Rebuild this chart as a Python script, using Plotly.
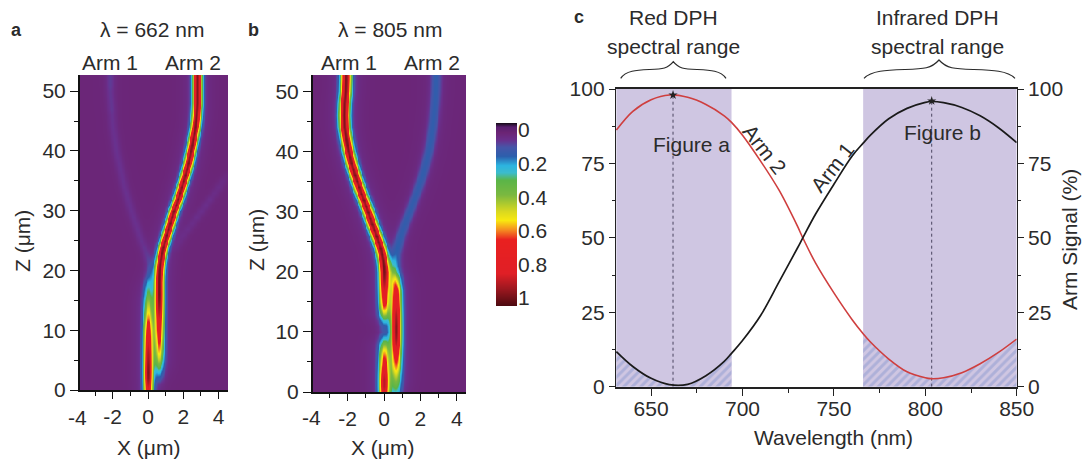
import numpy as np
import plotly.graph_objects as go

W, H = 1086, 461
FONT = "Liberation Sans"
TXT = "#2b2b2b"

# ---------- panels a, b: beam ridges, one value per row ----------
z_rows = list(range(53)) + [52.7]

a_arm1_x = [0]*18 + [0.03, 0.08, 0.12, 0.1, 0.0, -0.12, -0.25, -0.38, -0.5, -0.61, -0.72, -0.84, -0.95, -1.05, -1.15,
            -1.25, -1.35, -1.43, -1.5, -1.58, -1.65, -1.73, -1.8, -1.85, -1.9, -1.95, -2.0, -2.03, -2.05, -2.08,
            -2.1, -2.13, -2.15, -2.15, -2.15, -2.15]
a_arm1_amp = [0.78, 0.84, 0.9, 0.91, 0.89, 0.86, 0.84, 0.81, 0.78, 0.74, 0.7, 0.62, 0.52, 0.45, 0.38, 0.32, 0.25,
              0.2, 0.15, 0.1, 0.07, 0.05, 0.04] + [0.035]*24 + [0.04]*4 + [0.045]*3
a_arm2_x = [0.62]*19 + [0.63, 0.65, 0.68, 0.72, 0.78, 0.85, 0.95, 1.05, 1.15, 1.25, 1.35, 1.45, 1.58, 1.7, 1.8, 1.9,
            2.0, 2.1, 2.19, 2.28, 2.35, 2.42, 2.49, 2.55, 2.61, 2.67, 2.71, 2.74, 2.76, 2.78, 2.78, 2.78, 2.78, 2.78,
            2.78]
a_arm2_amp = [0, 0.02, 0.08, 0.16, 0.26, 0.36, 0.45, 0.52, 0.58, 0.65, 0.7, 0.74, 0.78, 0.83, 0.87, 0.9] + [0.92]*38
a_streak_x = [3]*23 + [1.4, 1.6, 1.8, 2.0, 2.25, 2.5, 2.75, 3.0, 3.25, 3.5, 3.75, 4.0, 4.2, 4.4] + [4.4]*17
a_streak_amp = [0]*23 + [0, 0.01, 0.015, 0.02, 0.025, 0.025, 0.03, 0.03, 0.03, 0.03, 0.025, 0.025, 0.02, 0.01] + [0]*17

b_arm1_x = [0]*21 + [-0.02, -0.06, -0.12, -0.2, -0.31, -0.42, -0.54, -0.66, -0.77, -0.88, -1.0, -1.12, -1.25, -1.38,
            -1.49, -1.6, -1.7, -1.8, -1.88, -1.96, -2.02, -2.08, -2.13, -2.18, -2.19, -2.2, -2.19, -2.18, -2.15,
            -2.12, -2.11, -2.1, -2.1]
b_arm1_amp = [0.78, 0.82, 0.82, 0.78, 0.7, 0.63, 0.55, 0.45, 0.3, 0.16, 0.06, 0.08, 0.18, 0.35, 0.52, 0.64, 0.7,
              0.77, 0.82, 0.87, 0.9] + [0.92]*33
b_arm2_x = [0.65]*18 + [0.62, 0.6, 0.55, 0.55, 0.58, 0.64, 0.72, 0.81, 0.9, 1.01, 1.12, 1.25, 1.38, 1.5, 1.62, 1.75,
            1.88, 1.99, 2.1, 2.19, 2.28, 2.36, 2.44, 2.5, 2.56, 2.6, 2.65, 2.69, 2.72, 2.75, 2.78, 2.8, 2.82, 2.83,
            2.84, 2.84]
b_arm2_amp = [0.18, 0.25, 0.32, 0.4, 0.5, 0.58, 0.65, 0.72, 0.82, 0.88, 0.91, 0.91, 0.88, 0.84, 0.79, 0.74, 0.7,
              0.65, 0.55, 0.42, 0.27, 0.18, 0.14] + [0.11]*31

colorbar_ticks = [0, 0.2, 0.4, 0.6, 0.8, 1]
x_major = [-2, 0, 2, 4]
x_minor = [-3, -1, 1, 3]
z_major = [0, 10, 20, 30, 40, 50]
z_minor = [5, 15, 25, 35, 45]

# ---------- panel c ----------
wavelength = [631, 640, 650, 660, 670, 680, 690, 694, 700, 710, 720, 730, 733, 740, 750, 760, 766, 770, 780, 790,
              800, 803, 810, 820, 830, 840, 850]
arm1_signal = [11.8, 6.8, 2.8, 0.7, 0.8, 3.7, 8.5, 11.2, 15.5, 24, 35.2, 46.5, 50, 58, 68, 77.5, 81.8, 84.5, 90,
               93.5, 95.5, 95.8, 95.4, 93.8, 91, 87, 82]
arm2_signal = [86.2, 92.5, 96.4, 98.0, 97.2, 94.8, 91.0, 88.8, 84.5, 75.7, 66, 54, 50, 41.5, 31.5, 22.5, 17.8, 15, 9.3,
               5, 3, 2.7, 3, 4.7, 7.7, 11.5, 16]
red_band = [631, 694]
ir_band = [766, 850]
figure_wave = [662, 803.5]
figure_peak = [98, 96]

# colour map, top to bottom of the bar
colorscale = [[0, "#1c0d20"], [0.02, "#5a1f70"], [0.05, "#6b2474"], [0.09, "#6a2f8c"], [0.13, "#4655a8"],
              [0.18, "#2c5fad"], [0.23, "#2cb4e0"], [0.27, "#3cbccc"], [0.31, "#5ab548"], [0.39, "#7ab840"],
              [0.48, "#d8d820"], [0.53, "#f8e810"], [0.58, "#f59020"], [0.635, "#e92020"], [0.82, "#e01f26"],
              [0.9, "#a01820"], [1, "#4a0a10"]]
ZMIN, ZMAX = -0.042, 1.048


def fx(px):
    return px / W


def fy(py):
    return 1 - py / H


def field(xs, beams, sigma, floor=0.02, glow=0.04):
    out = []
    for i in range(len(z_rows)):
        row = np.full(len(xs), floor, dtype=float)
        for bx, ba in beams:
            row += ba[i] * np.exp(-(xs - bx[i])**2 / (2 * sigma**2))
            row += glow * min(1.0, ba[i] * 3) * np.exp(-(xs - bx[i])**2 / (2 * (sigma * 2.8)**2))
        out.append(np.minimum(row, 1.0).tolist())
    return out


fig = go.Figure()

panels = [
    dict(x="x", y="y", xr=[-3.85, 4.53], d=(80, 228), yd=(75, 390), zr=[0, 52.7], sigma=0.18,
         beams=[(a_arm1_x, a_arm1_amp), (a_arm2_x, a_arm2_amp), (a_streak_x, a_streak_amp)]),
    dict(x="x2", y="y2", xr=[-3.9, 4.5], d=(313, 466), yd=(75, 392), zr=[0, 52.7], sigma=0.2,
         beams=[(b_arm1_x, b_arm1_amp), (b_arm2_x, b_arm2_amp)]),
]
layout = {}
for k, p in enumerate(panels):
    xs = np.linspace(p["xr"][0], p["xr"][1], 190)
    fig.add_trace(go.Heatmap(x=xs.tolist(), y=z_rows, z=field(xs, p["beams"], p["sigma"]), zmin=ZMIN, zmax=ZMAX,
                             colorscale=colorscale, showscale=False, zsmooth="best", hoverinfo="skip",
                             xaxis=p["x"], yaxis=p["y"]))
    sx = "xaxis" + ("" if k == 0 else "2")
    sy = "yaxis" + ("" if k == 0 else "2")
    layout[sx] = dict(domain=[fx(p["d"][0]), fx(p["d"][1])], range=p["xr"], anchor=p["y"], showgrid=False,
                      zeroline=False, showline=True, linecolor="#111", linewidth=1.5, ticks="outside", ticklen=7,
                      tickcolor="#111", tickwidth=1.3, tickmode="array", tickvals=x_major,
                      ticktext=[str(v) for v in x_major], ticklabelstandoff=0,
                      minor=dict(tickmode="array", tickvals=x_minor, ticks="outside", ticklen=4,
                                 tickcolor="#111", tickwidth=1.2, showgrid=False))
    layout[sy] = dict(domain=[fy(p["yd"][1]), fy(p["yd"][0])], range=p["zr"], anchor=p["x"], showgrid=False,
                      zeroline=False, showline=True, linecolor="#111", linewidth=2, ticks="outside", ticklen=8,
                      tickcolor="#111", tickwidth=1.3, tickmode="array", tickvals=z_major,
                      minor=dict(tickmode="array", tickvals=z_minor, ticks="outside", ticklen=4,
                                 tickcolor="#111", tickwidth=1.2, showgrid=False))

# colour bar drawn as its own heatmap so that 0 sits on top
levels = np.linspace(ZMIN, ZMAX, 184)
fig.add_trace(go.Heatmap(x=[0, 1], y=levels.tolist(), z=[[v, v] for v in levels], zmin=ZMIN, zmax=ZMAX,
                         colorscale=colorscale, showscale=False, hoverinfo="skip", zsmooth="best",
                         xaxis="x3", yaxis="y3"))
layout["xaxis3"] = dict(domain=[fx(496), fx(517)], range=[0, 1], anchor="y3", visible=False)
layout["yaxis3"] = dict(domain=[fy(306), fy(123)], range=[ZMAX, ZMIN], anchor="x3", side="right", showgrid=False,
                        zeroline=False, showline=False, ticks="", tickmode="array", tickvals=colorbar_ticks,
                        ticktext=[str(v) for v in colorbar_ticks], ticklabelstandoff=0)

# panel c
C_X, C_Y = "x4", "y4"


def band_part(band, vals):
    pts = [(w, v) for w, v in zip(wavelength, vals) if band[0] <= w <= band[1]]
    return [p[0] for p in pts], [p[1] for p in pts]


hatch = dict(shape="/", fgcolor="#8e9acf", bgcolor="#cfc6e2", size=6, solidity=0.5)
for band, vals in ((red_band, arm1_signal), (ir_band, arm2_signal)):
    bx, by = band_part(band, vals)
    fig.add_trace(go.Scatter(x=bx, y=by, mode="none", fill="tozeroy", fillpattern=hatch, fillcolor="#cfc6e2",
                             line_shape="spline", hoverinfo="skip", showlegend=False, xaxis=C_X, yaxis=C_Y))
for w, pk in zip(figure_wave, figure_peak):
    fig.add_trace(go.Scatter(x=[w, w], y=[0, pk], mode="lines", line=dict(color="#4a4560", width=1, dash="3px,3px"),
                             hoverinfo="skip", showlegend=False, xaxis=C_X, yaxis=C_Y))
fig.add_trace(go.Scatter(x=wavelength, y=arm2_signal, mode="lines", line=dict(color="#cf3f3f", width=1.6),
                         line_shape="spline", hoverinfo="skip", showlegend=False, xaxis=C_X, yaxis=C_Y))
fig.add_trace(go.Scatter(x=wavelength, y=arm1_signal, mode="lines", line=dict(color="#1a1a1a", width=1.7),
                         line_shape="spline", hoverinfo="skip", showlegend=False, xaxis=C_X, yaxis=C_Y))
fig.add_trace(go.Scatter(x=figure_wave, y=figure_peak, mode="markers",
                         marker=dict(symbol="star", size=7, color="#222"), hoverinfo="skip", showlegend=False,
                         xaxis=C_X, yaxis=C_Y))
# keeps the right-hand axis alive
fig.add_trace(go.Scatter(x=[wavelength[0]], y=[0], mode="markers", marker=dict(opacity=0), hoverinfo="skip",
                         showlegend=False, xaxis=C_X, yaxis="y5"))

y_major = [0, 25, 50, 75, 100]
y_minor = [12.5, 37.5, 62.5, 87.5]
wl_major = [650, 700, 750, 800, 850]
wl_minor = [675, 725, 775, 825]
layout["xaxis4"] = dict(domain=[fx(616), fx(1016.7)], range=[630.8, 850], anchor="y4", showgrid=False, zeroline=False,
                        showline=True, linecolor="#222", linewidth=1.8, mirror=True, ticks="outside", ticklen=7,
                        tickcolor="#222", tickwidth=1.3, tickmode="array", tickvals=wl_major, ticklabelstandoff=-5,
                        minor=dict(tickmode="array", tickvals=wl_minor, ticks="outside", ticklen=4,
                                   tickcolor="#222", tickwidth=1.2, showgrid=False))
for name, side in (("yaxis4", "left"), ("yaxis5", "right")):
    layout[name] = dict(domain=[fy(386.7), fy(89)], range=[0, 100], anchor="x4", side=side, showgrid=False,
                        zeroline=False, showline=True, linecolor="#222", linewidth=1.4, ticks="outside", ticklen=6,
                        tickcolor="#222", tickwidth=1.3, tickmode="array", tickvals=y_major,
                        minor=dict(tickmode="array", tickvals=y_minor, ticks="outside", ticklen=3,
                                   tickcolor="#222", tickwidth=1.2, showgrid=False))
layout["yaxis5"]["overlaying"] = "y4"


def brace(x0, xm, x1, base, shoulder, peak):
    a = (xm - x0)
    b = (x1 - xm)
    pts = [(x0, base), (x0 + .1*a, shoulder + 1), (x0 + .3*a, shoulder + .6), (x0 + .55*a, shoulder),
           (x0 + .8*a, shoulder - .5), (xm - .1*a, shoulder - 1), (xm, peak),
           (xm + .1*b, shoulder - 1), (xm + .2*b, shoulder - .5), (xm + .45*b, shoulder),
           (xm + .7*b, shoulder + .6), (x1 - .1*b, shoulder + 1), (x1, base)]
    d = f"M {fx(pts[0][0])} {fy(pts[0][1])}"
    for i in range(1, len(pts), 3):
        c = " ".join(f"{fx(q[0])} {fy(q[1])}" for q in pts[i:i+3])
        d += f" C {c}"
    return dict(type="path", xref="paper", yref="paper", path=d, line=dict(color="#2b2b2b", width=1.2))


shapes = [
    dict(type="rect", xref="x4", yref="y4", x0=red_band[0], x1=red_band[1], y0=0, y1=100, fillcolor="#cfc6e2",
         line_width=0, layer="below"),
    dict(type="rect", xref="x4", yref="y4", x0=ir_band[0], x1=ir_band[1], y0=0, y1=100, fillcolor="#cfc6e2",
         line_width=0, layer="below"),
    brace(620.7, 673.3, 726, 78.3, 69.5, 61.7),
    brace(864, 939, 1015, 78.3, 69.5, 60),
]

SIZE = 21


def label(text, px, py, size=SIZE, angle=0, bold=False):
    return dict(text=f"<b>{text}</b>" if bold else text, xref="paper", yref="paper", x=fx(px), y=fy(py),
                xanchor="center", yanchor="middle", showarrow=False, textangle=angle,
                font=dict(family=FONT, size=size, color=TXT))


annotations = [
    label("a", 16, 30, 18, bold=True), label("b", 253, 30, 18, bold=True), label("c", 579, 17, 18, bold=True),
    label("λ = 662 nm", 152, 30), label("λ = 805 nm", 390, 30),
    label("Arm 1", 110, 62), label("Arm 2", 193, 62), label("Arm 1", 349, 62), label("Arm 2", 432, 62),
    label("-4", 77, 417), label("-4", 311, 417),
    label("Z (μm)", 22, 241, angle=-90), label("Z (μm)", 257, 240, angle=-90),
    label("X (μm)", 148, 447), label("X (μm)", 382, 447),
    label("Red DPH", 673, 17), label("spectral range", 673, 47),
    label("Infrared DPH", 937, 17), label("spectral range", 937, 47),
    label("Figure a", 691, 145), label("Figure b", 942, 132),
    label("Arm 2", 765, 149, angle=52), label("Arm 1", 832, 167, angle=-52),
    label("Wavelength (nm)", 833, 437), label("Arm Signal (%)", 1070, 240, angle=-90),
]

fig.update_layout(width=W, height=H, margin=dict(l=0, r=0, t=0, b=0, autoexpand=False), paper_bgcolor="white",
                  plot_bgcolor="rgba(0,0,0,0)", font=dict(family=FONT, size=SIZE, color=TXT), showlegend=False,
                  shapes=shapes, annotations=annotations, **layout)

fig.write_html("out.html", config=dict(displayModeBar=False),
               post_script="document.body.style.margin='0';document.body.style.overflow='hidden';")
